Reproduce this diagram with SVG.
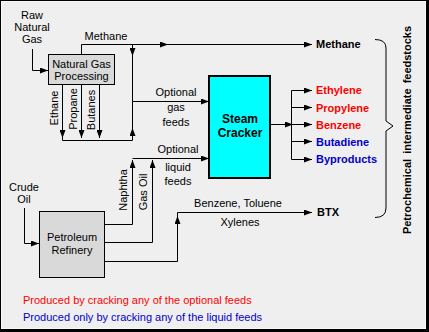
<svg xmlns="http://www.w3.org/2000/svg" width="429" height="332" viewBox="0 0 429 332">
<style>
text{font-family:"Liberation Sans",Arial,sans-serif;font-size:11px;fill:#000}
.c{text-anchor:middle}
.b{font-weight:bold}
.red{fill:#ff0000}
.blue{fill:#0000cc}
.ln{fill:none;stroke:#000;stroke-width:1}
.box{fill:#d9d9d9;stroke:#000;stroke-width:1}
</style>
<defs>
<marker id="ah" viewBox="0 0 8 6" refX="8" refY="3" markerWidth="8" markerHeight="6" markerUnits="userSpaceOnUse" orient="auto">
<path d="M0,0 L8,3 L0,6 z" fill="#000"/>
</marker>
<marker id="mid" viewBox="0 0 8 6" refX="4" refY="3" markerWidth="8" markerHeight="6" markerUnits="userSpaceOnUse" orient="auto">
<path d="M0,0 L8,3 L0,6 z" fill="#000"/>
</marker>
</defs>
<rect x="0" y="0" width="429" height="332" fill="#000"/>
<rect x="1" y="1" width="425" height="328" fill="#fafafa"/>
<rect x="2" y="2" width="423" height="326" fill="#efefef"/>

<g id="connectors">
<path class="ln" d="M32.5,49 V70.5 H48" marker-end="url(#ah)"/>
<path class="ln" d="M81.5,54 V44.5 H312" marker-end="url(#ah)"/>
<path class="ln" d="M150,44.5 H164" marker-end="url(#mid)"/>
<path class="ln" d="M132.5,44.5 V56" marker-end="url(#ah)"/>
<path class="ln" d="M62.5,84 V140.5 H132.5 V101.5"/>
<path class="ln" d="M132.5,140 V128" marker-end="url(#ah)"/>
<path class="ln" d="M62.5,84 V138" marker-end="url(#ah)"/>
<path class="ln" d="M81.5,84 V138" marker-end="url(#ah)"/>
<path class="ln" d="M99.5,84 V138" marker-end="url(#ah)"/>
<path class="ln" d="M132.5,56 V101.5 H209" marker-end="url(#ah)"/>
<path class="ln" d="M132.5,158.5 H209" marker-end="url(#ah)"/>
<path class="ln" d="M105,224.5 H132.5 V160" marker-end="url(#ah)"/>
<path class="ln" d="M105,242.5 H152.5 V160" marker-end="url(#ah)"/>
<path class="ln" d="M24.5,208 V243.5 H39" marker-end="url(#ah)"/>
<path class="ln" d="M105,261.5 H177.5 V212.5 H312" marker-end="url(#ah)"/>
<path class="ln" d="M177.5,230 V216" marker-end="url(#ah)"/>
<path class="ln" d="M270,124.5 H291.5"/>
<path class="ln" d="M280,124.5 H289" marker-end="url(#mid)"/>
<path class="ln" d="M291.5,90.5 V159.5"/>
<path class="ln" d="M291.5,90.5 H312" marker-end="url(#ah)"/>
<path class="ln" d="M291.5,107.5 H312" marker-end="url(#ah)"/>
<path class="ln" d="M291.5,124.5 H312" marker-end="url(#ah)"/>
<path class="ln" d="M291.5,141.5 H312" marker-end="url(#ah)"/>
<path class="ln" d="M291.5,159.5 H312" marker-end="url(#ah)"/>
<path class="ln" d="M375,39.5 Q386,39.5 386,48 V121 L393,126 L386,131 V208 Q386,217.5 375,217.5"/>
</g>

<g id="raw-gas">
<text class="c" x="32" y="19">Raw</text>
<text class="c" x="32" y="31">Natural</text>
<text class="c" x="32" y="43">Gas</text>
</g>

<g id="gas-processing">
<rect class="box" x="48.5" y="54.5" width="66" height="30"/>
<text class="c" x="81.5" y="68">Natural Gas</text>
<text class="c" x="81.5" y="80">Processing</text>
</g>

<g id="gas-labels">
<text class="c" x="106" y="40">Methane</text>
<text class="c" transform="translate(58,108) rotate(-90)">Ethane</text>
<text class="c" transform="translate(77,109) rotate(-90)">Propane</text>
<text class="c" transform="translate(95,110) rotate(-90)">Butanes</text>
<text class="c" x="176" y="96">Optional</text>
<text class="c" x="176" y="111">gas</text>
<text class="c" x="176" y="126">feeds</text>
</g>

<g id="steam-cracker">
<rect x="209" y="76" width="61" height="102" fill="#00ffff" stroke="#000" stroke-width="2"/>
<text class="c b" x="240" y="123" style="font-size:12px">Steam</text>
<text class="c b" x="240" y="137" style="font-size:12px">Cracker</text>
</g>

<g id="liquid-labels">
<text class="c" x="178" y="153">Optional</text>
<text class="c" x="178" y="171">liquid</text>
<text class="c" x="178" y="185">feeds</text>
<text class="c" transform="translate(127,190) rotate(-90)">Naphtha</text>
<text class="c" transform="translate(147,192) rotate(-90)">Gas Oil</text>
</g>

<g id="crude-oil">
<text class="c" x="24" y="191">Crude</text>
<text class="c" x="24" y="203">Oil</text>
</g>

<g id="refinery">
<rect class="box" x="39.5" y="211.5" width="65" height="66"/>
<text class="c" x="72" y="241">Petroleum</text>
<text class="c" x="72" y="254">Refinery</text>
</g>

<g id="btx-labels">
<text class="c" x="238" y="207">Benzene, Toluene</text>
<text class="c" x="240" y="226">Xylenes</text>
<text class="b" x="317" y="216">BTX</text>
</g>

<g id="products">
<text class="b" x="316" y="48">Methane</text>
<text class="b red" x="316" y="94">Ethylene</text>
<text class="b red" x="316" y="112">Propylene</text>
<text class="b red" x="316" y="129">Benzene</text>
<text class="b blue" x="316" y="146">Butadiene</text>
<text class="b blue" x="316" y="163">Byproducts</text>
</g>

<g id="feedstocks-label">
<text class="c b" transform="translate(411,130) rotate(-90)" style="word-spacing:2px">Petrochemical intermediate feedstocks</text>
</g>

<g id="legend">
<text class="red" x="23" y="304">Produced by cracking any of the optional feeds</text>
<text class="blue" x="23" y="321">Produced only by cracking any of the liquid feeds</text>
</g>
</svg>
